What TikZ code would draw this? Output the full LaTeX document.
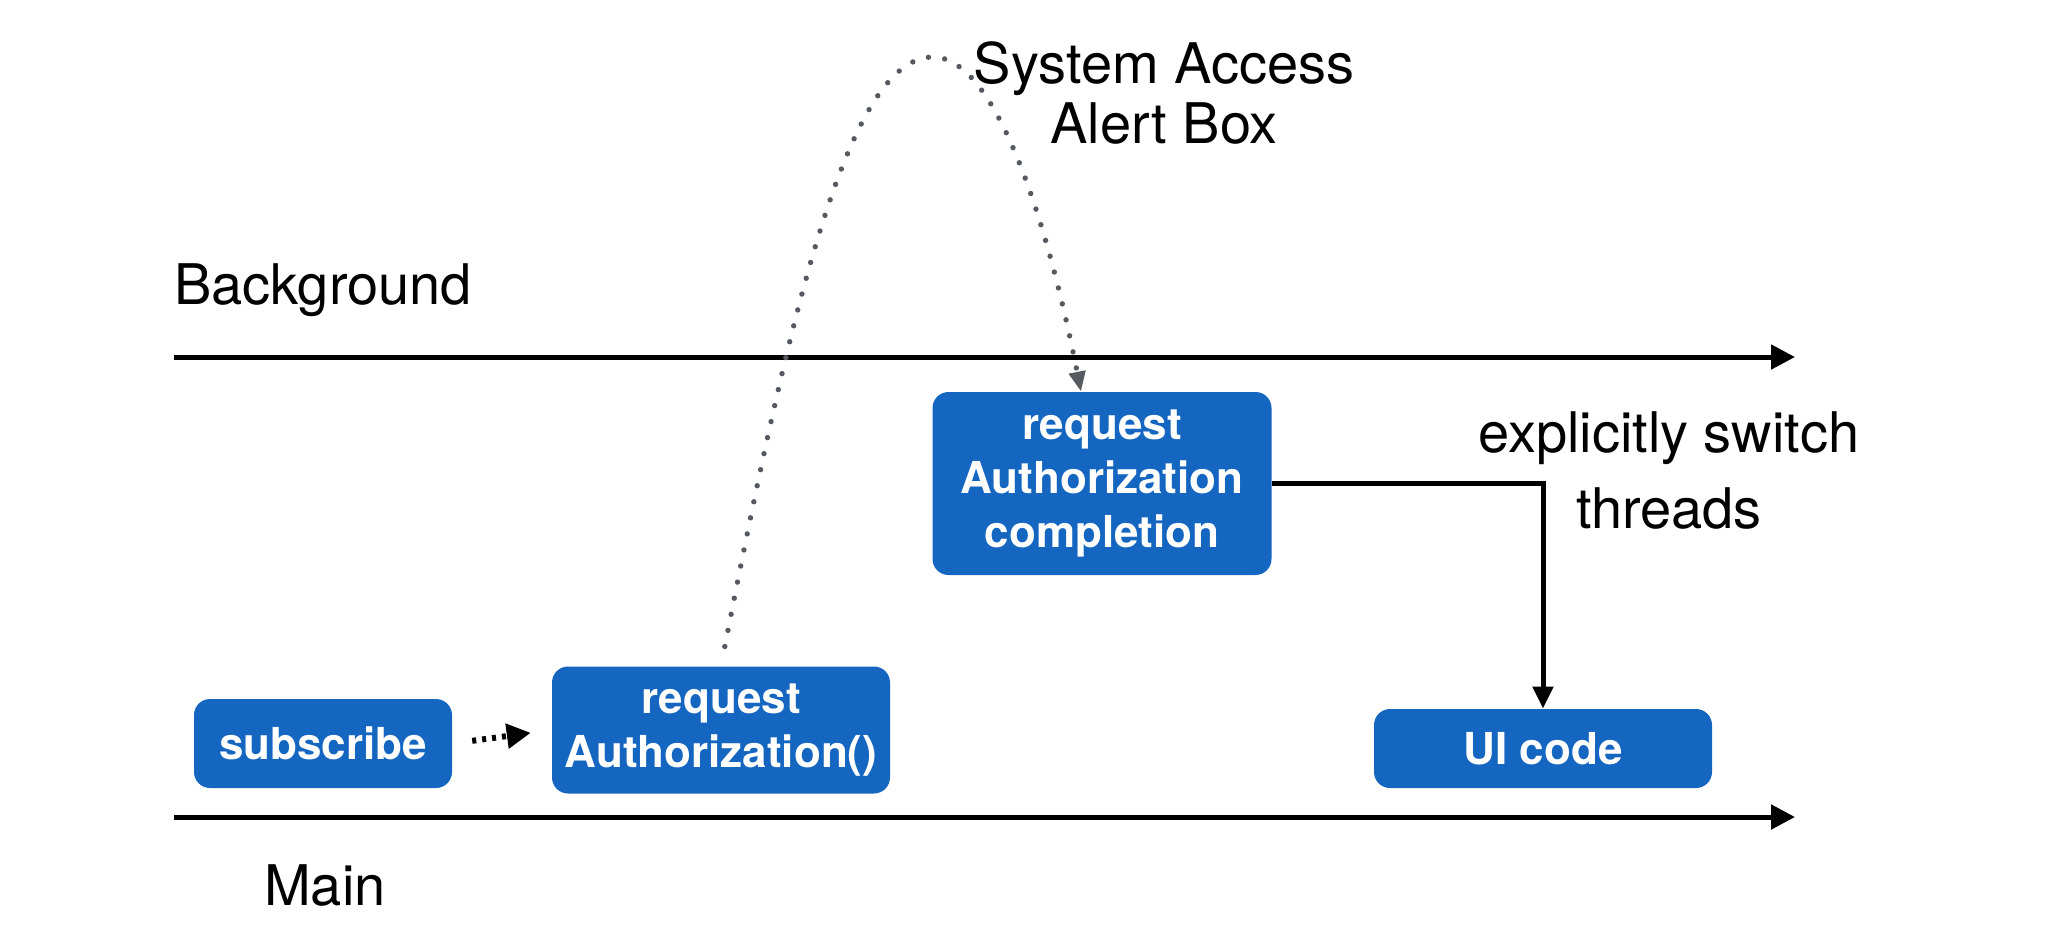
\documentclass[tikz,border=0pt]{standalone}
\usepackage{fontspec}
\setmainfont{TeX Gyre Heros}
\usetikzlibrary{arrows.meta,calc}
\definecolor{boxblue}{RGB}{21,102,192}
\definecolor{dotgray}{RGB}{85,89,96}
\begin{document}
\begin{tikzpicture}[x=0.5pt,y=-0.5pt,
  blockbox/.style={fill=boxblue, draw=none, rounded corners=8pt, inner sep=0pt,
    text=white, align=center, font=\fontsize{22}{27}\selectfont\bfseries},
  lbl/.style={inner sep=0pt, font=\fontsize{28}{30}\selectfont},
  timeline/.style={line width=2.5pt, -{Triangle[length=12pt,width=12pt]}},
  switcharrow/.style={line width=2.5pt, -{Triangle[length=11pt,width=10pt]}},
  dotarrow/.style={line width=3pt, dash pattern=on 2pt off 3pt, -{Triangle[length=12pt,width=12pt]}},
  alertcurve/.style={dotgray, line width=2.7pt, line cap=round, dash pattern=on 0pt off 8.2pt,
    -{Triangle[length=10pt,width=8pt]}}
]
\useasboundingbox (0,0) rectangle (2056,944);

% timelines
\coordinate (bgL) at (174,357);
\coordinate (bgR) at (1795,357);
\coordinate (mnL) at (174,817);
\coordinate (mnR) at (1795,817);
\draw[timeline] (bgL) -- (bgR);
\draw[timeline] (mnL) -- (mnR);

% labels
\node[lbl, anchor=base] (bglbl) at (323,304) {Background};
\node[lbl, anchor=base] (mainlbl) at (325,905) {Main};
\node[lbl, anchor=base, align=center, font=\fontsize{28}{30}\selectfont] (alert) at (1164,143) {System Access\\Alert Box};
\node[lbl, anchor=base, align=center, font=\fontsize{28}{38}\selectfont] (switch) at (1669,528) {explicitly switch\\threads};

% boxes
\node[blockbox, minimum width=129pt, minimum height=44.5pt] (sub) at (323,743.5) {subscribe};
\node[blockbox, minimum width=169pt, minimum height=63.5pt] (rauth) at (721,730) {request\\Authorization()};
\node[blockbox, minimum width=169.5pt, minimum height=91.5pt] (comp) at (1102,483.5) {request\\Authorization\\completion};
\node[blockbox, minimum width=169pt, minimum height=39.5pt] (ui) at (1543,748.5) {UI code};

% connectors
\draw[dotarrow, shorten <=10pt, shorten >=10.5pt] (sub.east) -- (rauth.west);

\coordinate (peak) at (933,57);
\coordinate (tipx) at (1081,0);
\draw[alertcurve, shorten <=10pt] (rauth.north) .. controls (793,296) and (850,57) .. (peak)
  .. controls (993,57) and (1045,209) .. (comp.north -| tipx);

\draw[switcharrow] (comp.east) -- (comp.east -| ui.north) -- (ui.north);
\end{tikzpicture}
\end{document}
